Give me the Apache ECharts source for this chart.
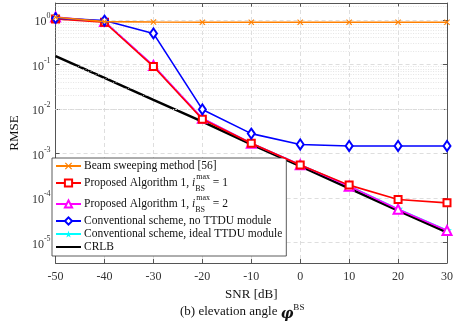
<!DOCTYPE html>
<html>
<head>
<meta charset="utf-8">
<script src="https://cdn.jsdelivr.net/npm/echarts@6/dist/echarts.min.js"></script>
<style>
  html, body { margin: 0; padding: 0; background: #fff; }
  #chart { width: 457px; height: 326px; }
</style>
</head>
<body>
<div id="chart"></div>
<script>
// SNR [dB]
const snr = [-50, -40, -30, -20, -10, 0, 10, 20, 30]

// RMSE values
const beamSweep = [1.15, 0.92, 0.9, 0.89, 0.89, 0.89, 0.89, 0.89, 0.89]
const proposed1 = [1.05, 0.89, 0.09, 0.0059, 0.0017, 5.5e-4, 1.95e-4, 9.3e-5, 7.8e-5]
const proposed2 = [1.17, 0.92, 0.095, 0.0062, 0.0017, 5.6e-4, 1.85e-4, 5.6e-5, 1.86e-5]
const convNoTTDU = [1.1, 0.97, 0.5, 0.0098, 0.0028, 0.0016, 0.00148, 0.00148, 0.00148]
const convIdeal = [1.15, 0.92, 0.093, 0.0061, 0.0017, 5.6e-4, 1.87e-4, 5.7e-5, 1.88e-5]
const crlb = [0.155, 0.05, 0.016, 0.0052, 0.0016, 5.2e-4, 1.65e-4, 5.2e-5, 1.7e-5]

const yMin = 3.47e-6
const yMax = 2.41

const font = 'Liberation Serif'

// minor grid lines at 2..9 x 10^k (matlab style)
const minorLines = []
for (let k = -6; k <= 0; k++) {
  for (let m = 2; m <= 9; m++) {
    const v = m * Math.pow(10, k)
    if (v > yMin && v < yMax) minorLines.push({ yAxis: v })
  }
}

const pair = arr => snr.map((x, i) => [x, arr[i]])

const xMark = 'path://M0,1.2L1.2,0L5,3.8L8.8,0L10,1.2L6.2,5L10,8.8L8.8,10L5,6.2L1.2,10L0,8.8L3.8,5Z'
const starMark = 'path://M50,0L61,35L98,35L68,57L79,91L50,70L21,91L32,57L2,35L39,35Z'

const supLabel = v => {
  const e = Math.round(Math.log10(v))
  if (Math.abs(Math.log10(v) - e) > 1e-6) return ''
  return '{b|10}{s|' + e + '}'
}

const nameBeam = 'Beam sweeping method [56]'
const nameP1 = 'Proposed Algorithm 1, i=1'
const nameP2 = 'Proposed Algorithm 1, i=2'
const nameConv = 'Conventional scheme, no TTDU module'
const nameIdeal = 'Conventional scheme, ideal TTDU module'
const nameCrlb = 'CRLB'

const boxAxisLine = { show: true, onZero: false, lineStyle: { color: '#555', width: 1 } }
const boxTick = { show: true, inside: true, length: 4, lineStyle: { color: '#555' } }

const chart = echarts.init(document.getElementById('chart'))

chart.setOption({
  animation: false,
  grid: { left: 45, right: 10, top: 3, bottom: 63 },
  title: {
    text: '(b) elevation angle {phi|φ}{sup|BS}',
    left: 175,
    top: 298,
    textStyle: {
      fontFamily: font,
      fontSize: 13,
      fontWeight: 'normal',
      color: '#111',
      rich: {
        phi: { fontFamily: 'DejaVu Serif', fontSize: 14, fontWeight: 'bold', fontStyle: 'italic', color: '#111', lineHeight: 18, verticalAlign: 'bottom' },
        sup: { fontFamily: font, fontSize: 9, color: '#111', lineHeight: 18, verticalAlign: 'top' }
      }
    }
  },
  legend: {
    orient: 'vertical',
    left: 52,
    top: 158,
    data: [nameBeam, nameP1, nameP2, nameConv, nameIdeal, { name: nameCrlb, itemStyle: { opacity: 0 } }],
    itemWidth: 25,
    itemHeight: 9,
    itemGap: 1,
    padding: [2, 4, 3, 3],
    backgroundColor: '#fff',
    borderColor: '#333',
    borderWidth: 0.8,
    borderRadius: 0,
    textStyle: {
      fontFamily: font,
      fontSize: 11.5,
      color: '#111',
      lineHeight: 12,
      padding: [0, 0, 0, -2],
      rich: {
        n: { fontFamily: font, fontSize: 11.5, color: '#111', lineHeight: 20 },
        i: { fontFamily: font, fontSize: 11.5, fontStyle: 'italic', color: '#111', lineHeight: 20 },
        sub: { fontFamily: font, fontSize: 8, color: '#111', lineHeight: 9, verticalAlign: 'bottom', width: 1 },
        sup: { fontFamily: font, fontSize: 8, color: '#111', lineHeight: 9, verticalAlign: 'top' }
      }
    },
    formatter: name => {
      if (name === nameP1) return '{n|Proposed Algorithm 1, }{i|i}{sub|BS}{sup|max}{n| = 1}'
      if (name === nameP2) return '{n|Proposed Algorithm 1, }{i|i}{sub|BS}{sup|max}{n| = 2}'
      return name
    }
  },
  xAxis: [
    {
      type: 'value',
      min: -50,
      max: 30,
      interval: 10,
      name: 'SNR [dB]',
      nameLocation: 'middle',
      nameGap: 23,
      nameTextStyle: { fontFamily: font, fontSize: 13, color: '#111' },
      axisLine: boxAxisLine,
      axisTick: boxTick,
      axisLabel: { fontFamily: font, fontSize: 12, color: '#333', margin: 8 },
      splitLine: { show: true, lineStyle: { color: '#d6d6d6', type: [4, 3], width: 0.8 } }
    },
    {
      type: 'value',
      position: 'top',
      min: -50,
      max: 30,
      interval: 10,
      axisLine: boxAxisLine,
      axisTick: boxTick,
      axisLabel: { show: false },
      splitLine: { show: false }
    }
  ],
  yAxis: [
    {
      type: 'log',
      min: yMin,
      max: yMax,
      name: 'RMSE',
      nameLocation: 'middle',
      nameGap: 30,
      nameTextStyle: { fontFamily: font, fontSize: 13, color: '#111' },
      axisLine: boxAxisLine,
      axisTick: boxTick,
      axisLabel: {
        showMinLabel: false,
        showMaxLabel: false,
        margin: 5,
        formatter: supLabel,
        rich: {
          b: { fontFamily: font, fontSize: 12, color: '#333', padding: [4, 0, 0, 0] },
          s: { fontFamily: font, fontSize: 8, color: '#333', verticalAlign: 'top', padding: [0, 0, 6, 0] }
        }
      },
      splitLine: { show: true, lineStyle: { color: '#d6d6d6', type: [4, 3], width: 0.8 } }
    },
    {
      type: 'log',
      position: 'right',
      min: yMin,
      max: yMax,
      axisLine: boxAxisLine,
      axisTick: boxTick,
      axisLabel: { show: false },
      splitLine: { show: false }
    }
  ],
  series: [
    {
      name: 'minor-grid',
      type: 'line',
      data: [],
      z: 1,
      silent: true,
      markLine: {
        silent: true,
        symbol: 'none',
        label: { show: false },
        lineStyle: { color: '#dadada', type: [1, 1.5], width: 0.7 },
        data: minorLines
      }
    },
    {
      name: nameCrlb,
      type: 'line',
      data: pair(crlb),
      symbol: 'none',
      z: 3,
      lineStyle: { color: '#000', width: 2.5 },
      itemStyle: { color: '#000' }
    },
    {
      name: nameIdeal,
      type: 'line',
      data: pair(convIdeal),
      symbol: starMark,
      symbolSize: 10,
      z: 2,
      lineStyle: { color: '#00ffff', width: 1.6 },
      itemStyle: { color: '#00ffff' }
    },
    {
      name: nameP2,
      type: 'line',
      data: pair(proposed2),
      symbol: 'emptyTriangle',
      symbolSize: 9,
      z: 4,
      lineStyle: { color: '#ff00ff', width: 1.6 },
      itemStyle: { color: '#ff00ff', borderWidth: 1.3 }
    },
    {
      name: nameP1,
      type: 'line',
      data: pair(proposed1),
      symbol: 'emptyRect',
      symbolSize: 7,
      z: 5,
      lineStyle: { color: '#ff0000', width: 1.6 },
      itemStyle: { color: '#ff0000', borderWidth: 1.3 }
    },
    {
      name: nameConv,
      type: 'line',
      data: pair(convNoTTDU),
      symbol: 'emptyDiamond',
      symbolSize: [7, 10],
      z: 6,
      lineStyle: { color: '#0000ff', width: 1.6 },
      itemStyle: { color: '#0000ff', borderWidth: 1.3 }
    },
    {
      name: nameBeam,
      type: 'line',
      data: pair(beamSweep),
      symbol: xMark,
      symbolSize: 6,
      z: 7,
      lineStyle: { color: '#ff8000', width: 1.6 },
      itemStyle: { color: '#ff8000' }
    }
  ]
})
</script>
</body>
</html>
